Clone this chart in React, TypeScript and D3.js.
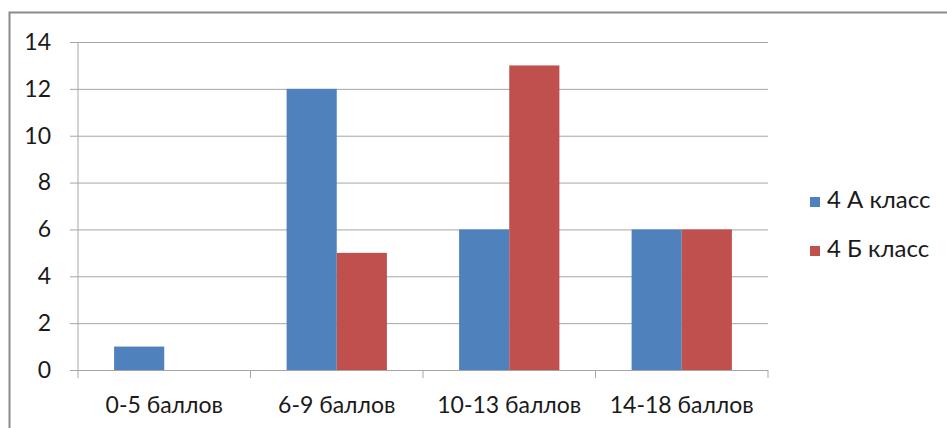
import React, { useEffect, useRef } from 'react';
import { axisLeft, max, scaleBand, scaleLinear, select } from 'd3';

const categories = ['0-5 баллов', '6-9 баллов', '10-13 баллов', '14-18 баллов'];
const seriesNames = ['4 А класс', '4 Б класс'];
const classA = [1, 12, 6, 6];
const classB = [0, 5, 13, 6];
const yTicks = [0, 2, 4, 6, 8, 10, 12, 14];

const colors = ['#4F81BD', '#C0504D'];
const font = 'Lato, "Open Sans", sans-serif';

const App: React.FC = () => {
  const svgRef = useRef<SVGSVGElement>(null);

  useEffect(() => {
    const svg = select(svgRef.current);
    svg.selectAll('*').remove();

    const left = 78;
    const right = 768;
    const top = 42;
    const bottom = 370;

    const x = scaleBand().domain(categories).range([left, right]);
    const inner = scaleBand()
      .domain(seriesNames)
      .range([0, x.bandwidth()])
      .paddingInner(0)
      .paddingOuter(0.72);
    const y = scaleLinear()
      .domain([0, max(yTicks) as number])
      .range([bottom, top]);

    // frame
    svg
      .append('rect')
      .attr('x', 9.5)
      .attr('y', 12.5)
      .attr('width', 960)
      .attr('height', 440)
      .attr('fill', 'none')
      .attr('stroke', '#8a8a8a')
      .attr('stroke-width', 2);

    // grid + y axis
    const yAxis = axisLeft(y)
      .tickValues(yTicks)
      .tickSize(right - left + 8)
      .tickPadding(19);
    const gy = svg
      .append('g')
      .attr('transform', `translate(${right},0)`)
      .call(yAxis);
    gy.select('.domain').remove();
    gy.selectAll('.tick line').attr('stroke', '#a6a6a6');
    gy.selectAll('.tick text')
      .attr('fill', '#1a1a1a')
      .style('font-family', font)
      .style('font-size', '23px');

    // y axis line
    svg
      .append('line')
      .attr('x1', left)
      .attr('x2', left)
      .attr('y1', top)
      .attr('y2', bottom)
      .attr('stroke', '#a6a6a6');

    // category ticks
    const bounds = categories.map((c) => x(c) as number).concat(right);
    svg
      .selectAll('.cat-tick')
      .data(bounds)
      .join('line')
      .attr('class', 'cat-tick')
      .attr('x1', (d) => d)
      .attr('x2', (d) => d)
      .attr('y1', bottom)
      .attr('y2', bottom + 8)
      .attr('stroke', '#a6a6a6');

    // bars
    const series = [classA, classB];
    series.forEach((vals, si) => {
      svg
        .selectAll(`.bar-${si}`)
        .data(vals.map((v, i) => ({ v, c: categories[i] })))
        .join('rect')
        .attr('class', `bar-${si}`)
        .attr('x', (d) => (x(d.c) as number) + (inner(seriesNames[si]) as number))
        .attr('y', (d) => y(d.v))
        .attr('width', inner.bandwidth())
        .attr('height', (d) => bottom - y(d.v))
        .attr('fill', colors[si]);
    });

    // category labels
    svg
      .selectAll('.cat-label')
      .data(categories)
      .join('text')
      .attr('class', 'cat-label')
      .attr('x', (d) => (x(d) as number) + x.bandwidth() / 2)
      .attr('y', 413)
      .attr('text-anchor', 'middle')
      .attr('fill', '#1a1a1a')
      .style('font-family', font)
      .style('font-size', '23px')
      .text((d) => d);

    // legend
    const legend = svg
      .selectAll('.legend')
      .data(seriesNames)
      .join('g')
      .attr('class', 'legend')
      .attr('transform', (_, i) => `translate(810, ${197 + i * 49})`);
    legend
      .append('rect')
      .attr('width', 10)
      .attr('height', 10)
      .attr('fill', (_, i) => colors[i]);
    legend
      .append('text')
      .attr('x', 17)
      .attr('y', 11)
      .attr('fill', '#1a1a1a')
      .style('font-family', font)
      .style('font-size', '24px')
      .text((d) => d);
  }, []);

  return (
    <svg
      ref={svgRef}
      width={947}
      height={428}
      style={{ position: 'absolute', left: 0, top: 0, background: '#fff' }}
    />
  );
};

export default App;
